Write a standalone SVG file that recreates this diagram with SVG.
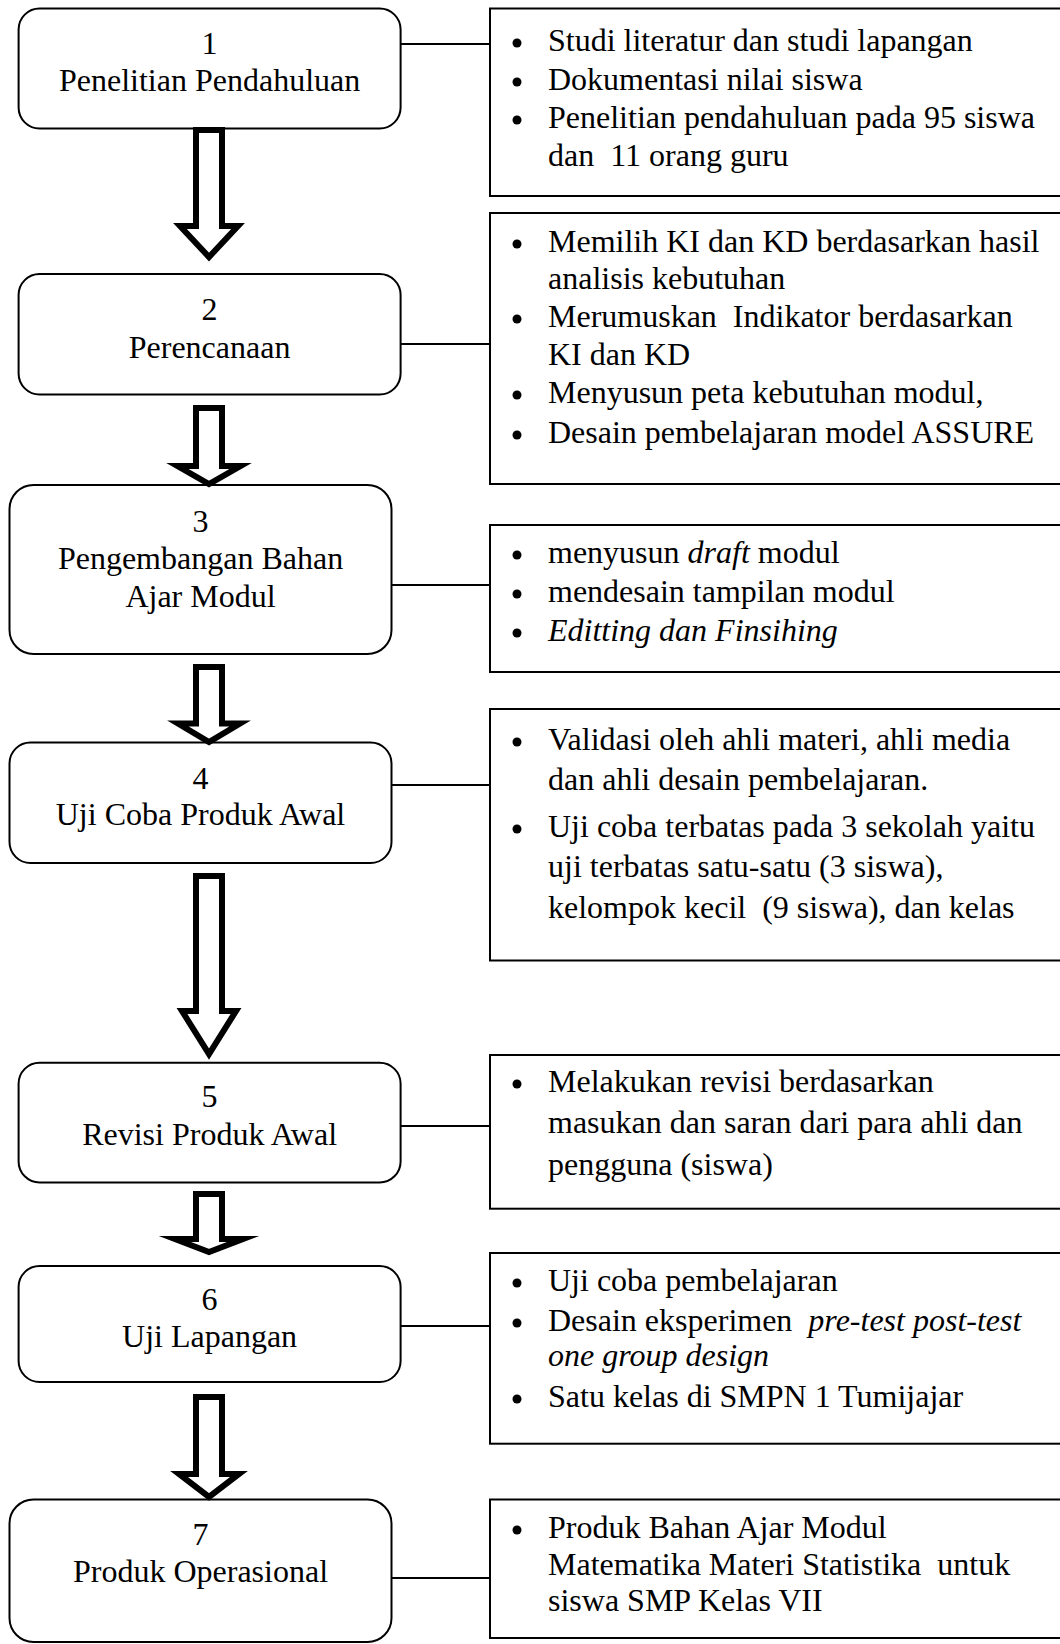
<svg xmlns="http://www.w3.org/2000/svg" width="1060" height="1644" viewBox="0 0 1060 1644">
<style>
.n{fill:#fff;stroke:#000;stroke-width:2}
.r{fill:#fff;stroke:#000;stroke-width:2}
.c{stroke:#000;stroke-width:2;fill:none}
.a{fill:#fff;stroke:#000;stroke-width:6;stroke-linejoin:miter;stroke-miterlimit:10}
text{font-family:"Liberation Serif","Times New Roman",serif;font-size:32px;fill:#000;white-space:pre}
.m{text-anchor:middle}
.i{font-style:italic}
.b{fill:#000}
</style>
<rect width="1060" height="1644" fill="#fff"/>
<g id="node1">
<rect class="n" x="18.6" y="8.5" width="382" height="120" rx="21"/>
<text class="m" x="209.6" y="54">1</text>
<text class="m" x="209.6" y="91">Penelitian Pendahuluan</text>
</g>
<g id="detail1">
<rect class="r" x="490" y="8.5" width="580" height="187.5"/>
<circle class="b" cx="517" cy="43" r="4.5"/><circle class="b" cx="517" cy="82" r="4.5"/><circle class="b" cx="517" cy="120" r="4.5"/>
<text x="548" y="51">Studi literatur dan studi lapangan</text>
<text x="548" y="90">Dokumentasi nilai siswa</text>
<text x="548" y="128">Penelitian pendahuluan pada 95 siswa</text>
<text x="548" y="166">dan  11 orang guru</text>
</g>
<g id="node2">
<rect class="n" x="18.6" y="274" width="382" height="120.5" rx="21"/>
<text class="m" x="209.6" y="320">2</text>
<text class="m" x="209.6" y="358">Perencanaan</text>
</g>
<g id="detail2">
<rect class="r" x="490" y="213" width="580" height="271"/>
<circle class="b" cx="517" cy="244" r="4.5"/><circle class="b" cx="517" cy="319" r="4.5"/><circle class="b" cx="517" cy="395" r="4.5"/><circle class="b" cx="517" cy="435" r="4.5"/>
<text x="548" y="252">Memilih KI dan KD berdasarkan hasil</text>
<text x="548" y="289">analisis kebutuhan</text>
<text x="548" y="327">Merumuskan  Indikator berdasarkan</text>
<text x="548" y="365">KI dan KD</text>
<text x="548" y="403">Menyusun peta kebutuhan modul,</text>
<text x="548" y="443">Desain pembelajaran model ASSURE</text>
</g>
<g id="node3">
<rect class="n" x="9.5" y="485" width="382" height="169" rx="24"/>
<text class="m" x="200.5" y="532">3</text>
<text class="m" x="200.5" y="569">Pengembangan Bahan</text>
<text class="m" x="200.5" y="606.5">Ajar Modul</text>
</g>
<g id="detail3">
<rect class="r" x="490" y="525" width="580" height="147"/>
<circle class="b" cx="517" cy="555" r="4.5"/><circle class="b" cx="517" cy="594" r="4.5"/><circle class="b" cx="517" cy="633" r="4.5"/>
<text x="548" y="563">menyusun <tspan class="i">draft</tspan> modul</text>
<text x="548" y="602">mendesain tampilan modul</text>
<text x="548" y="641" class="i">Editting dan Finsihing</text>
</g>
<g id="node4">
<rect class="n" x="9.5" y="742.5" width="382" height="120.5" rx="21"/>
<text class="m" x="200.5" y="789">4</text>
<text class="m" x="200.5" y="825">Uji Coba Produk Awal</text>
</g>
<g id="detail4">
<rect class="r" x="490" y="709" width="580" height="251.5"/>
<circle class="b" cx="517" cy="742" r="4.5"/><circle class="b" cx="517" cy="829" r="4.5"/>
<text x="548" y="750">Validasi oleh ahli materi, ahli media</text>
<text x="548" y="790">dan ahli desain pembelajaran.</text>
<text x="548" y="837">Uji coba terbatas pada 3 sekolah yaitu</text>
<text x="548" y="877">uji terbatas satu-satu (3 siswa),</text>
<text x="548" y="918">kelompok kecil  (9 siswa), dan kelas</text>
</g>
<g id="node5">
<rect class="n" x="18.6" y="1062.7" width="382" height="119.7" rx="21"/>
<text class="m" x="209.6" y="1107">5</text>
<text class="m" x="209.6" y="1144.5">Revisi Produk Awal</text>
</g>
<g id="detail5">
<rect class="r" x="490" y="1055" width="580" height="153.7"/>
<circle class="b" cx="517" cy="1084" r="4.5"/>
<text x="548" y="1092">Melakukan revisi berdasarkan</text>
<text x="548" y="1133">masukan dan saran dari para ahli dan</text>
<text x="548" y="1175">pengguna (siswa)</text>
</g>
<g id="node6">
<rect class="n" x="18.6" y="1266" width="382" height="116" rx="21"/>
<text class="m" x="209.6" y="1310">6</text>
<text class="m" x="209.6" y="1347">Uji Lapangan</text>
</g>
<g id="detail6">
<rect class="r" x="490" y="1253" width="580" height="190.7"/>
<circle class="b" cx="517" cy="1283" r="4.5"/><circle class="b" cx="517" cy="1323" r="4.5"/><circle class="b" cx="517" cy="1399" r="4.5"/>
<text x="548" y="1291">Uji coba pembelajaran</text>
<text x="548" y="1331">Desain eksperimen  <tspan class="i">pre-test post-test</tspan></text>
<text x="548" y="1366" class="i">one group design</text>
<text x="548" y="1407">Satu kelas di SMPN 1 Tumijajar</text>
</g>
<g id="node7">
<rect class="n" x="9.5" y="1499.5" width="382" height="142.5" rx="24"/>
<text class="m" x="200.5" y="1545">7</text>
<text class="m" x="200.5" y="1582">Produk Operasional</text>
</g>
<g id="detail7">
<rect class="r" x="490" y="1499.5" width="580" height="138.5"/>
<circle class="b" cx="517" cy="1530" r="4.5"/>
<text x="548" y="1538">Produk Bahan Ajar Modul</text>
<text x="548" y="1575">Matematika Materi Statistika  untuk</text>
<text x="548" y="1611">siswa SMP Kelas VII</text>
</g>
<g id="connectors">
<line class="c" x1="400.6" y1="44" x2="490" y2="44"/>
<line class="c" x1="400.6" y1="344" x2="490" y2="344"/>
<line class="c" x1="391.5" y1="585" x2="490" y2="585"/>
<line class="c" x1="391.5" y1="785" x2="490" y2="785"/>
<line class="c" x1="400.6" y1="1126" x2="490" y2="1126"/>
<line class="c" x1="400.6" y1="1326" x2="490" y2="1326"/>
<line class="c" x1="391.5" y1="1578" x2="490" y2="1578"/>
<path class="a" d="M196,130 H222 V226 H238 L209,257 L180,226 H196 Z"/>
<path class="a" d="M196,408 H222 V466 H240.5 L209,484 L177.5,466 H196 Z"/>
<path class="a" d="M196,667 H222 V723.5 H240 L209,742 L178,723.5 H196 Z"/>
<path class="a" d="M196,876 H222 V1011 H236 L209,1054 L182,1011 H196 Z"/>
<path class="a" d="M196,1194 H222 V1239 H243 L209,1252 L175,1239 H196 Z"/>
<path class="a" d="M196,1397 H222 V1474 H239 L209,1497 L179,1474 H196 Z"/>
</g>
</svg>
